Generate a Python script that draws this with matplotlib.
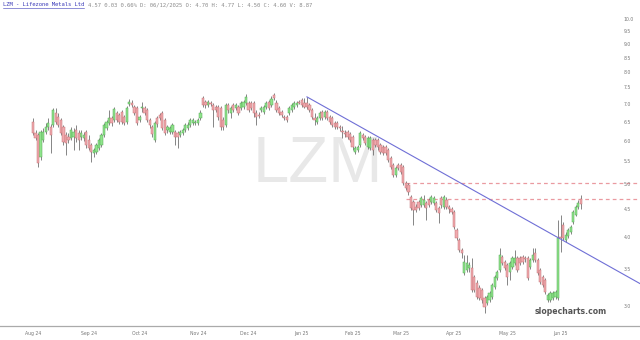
import numpy as np
import pandas as pd
import matplotlib
matplotlib.use("Agg")
import matplotlib.pyplot as plt
from matplotlib.lines import Line2D

# ---------------- data ----------------
holidays = ["2024-09-02", "2024-11-28", "2024-12-25", "2025-01-01", "2025-01-09",
            "2025-01-20", "2025-02-17", "2025-04-18", "2025-05-26"]
dates = pd.bdate_range("2024-08-01", "2025-06-12", freq="C", holidays=holidays)

opens = [6.49, 6.19, 6.14, 5.60, 6.02, 6.22, 6.35, 6.35, 6.41, 6.74,
         6.63, 6.54, 6.35, 6.14, 6.09, 6.07, 6.09, 6.27, 6.19, 6.09,
         6.07, 6.22, 6.02, 5.89, 5.70, 5.72, 5.82, 5.89, 6.14, 6.33,
         6.46, 6.60, 6.54, 6.74, 6.68, 6.77, 6.63, 6.49, 7.00, 7.03,
         6.91, 6.88, 6.54, 6.88, 6.88, 6.82, 6.54, 6.35, 6.02, 6.60,
         6.68, 6.74, 6.54, 6.27, 6.22, 6.22, 6.22, 6.19, 6.14, 6.19,
         6.27, 6.33, 6.41, 6.46, 6.46, 6.46, 6.60, 7.18, 7.06, 6.97,
         7.03, 6.97, 6.91, 6.91, 6.88, 6.54, 6.41, 6.97, 6.74, 6.97,
         6.88, 6.91, 6.88, 6.91, 7.03, 7.03, 7.03, 7.03, 6.74, 6.68,
         6.82, 6.77, 6.91, 7.06, 6.97, 7.27, 7.03, 6.88, 6.77, 6.63,
         6.63, 6.74, 6.82, 6.91, 6.97, 7.06, 7.12, 7.03, 7.03, 6.97,
         6.82, 6.60, 6.49, 6.60, 6.77, 6.63, 6.77, 6.63, 6.60, 6.46,
         6.46, 6.35, 6.25, 6.19, 6.22, 6.17, 6.09, 5.72, 5.77, 5.89,
         6.14, 6.09, 5.84, 5.82, 6.02, 6.02, 6.02, 5.89, 5.84, 5.84,
         5.77, 5.58, 5.42, 5.19, 5.42, 5.42, 5.37, 5.02, 4.98, 4.73,
         4.64, 4.54, 4.64, 4.58, 4.58, 4.62, 4.67, 4.64, 4.62, 4.62,
         4.52, 4.71, 4.54, 4.67, 4.54, 4.50, 4.45, 4.12, 3.95, 3.79,
         3.44, 3.48, 3.51, 3.51, 3.38, 3.30, 3.23, 3.20, 3.10, 3.03,
         3.07, 3.11, 3.24, 3.37, 3.48, 3.68, 3.60, 3.56, 3.45, 3.53,
         3.59, 3.66, 3.66, 3.68, 3.66, 3.66, 3.53, 3.63, 3.74, 3.63,
         3.48, 3.38, 3.34, 3.07, 3.07, 3.10, 3.11, 3.10, 4.00, 4.21,
         3.95, 4.02, 4.09, 4.26, 4.39, 4.54, 4.70]

highs = [6.60, 6.27, 6.19, 6.27, 6.33, 6.46, 6.60, 6.43, 6.88, 6.88,
         6.74, 6.60, 6.41, 6.22, 6.19, 6.35, 6.33, 6.41, 6.27, 6.27,
         6.22, 6.27, 6.14, 5.94, 5.82, 5.94, 6.07, 6.19, 6.46, 6.54,
         6.82, 6.65, 6.91, 6.80, 6.74, 6.82, 6.68, 6.94, 7.15, 7.12,
         6.97, 6.94, 6.68, 7.06, 6.94, 6.88, 6.60, 6.41, 6.52, 6.65,
         6.74, 6.80, 6.60, 6.41, 6.38, 6.46, 6.27, 6.25, 6.27, 6.33,
         6.46, 6.49, 6.60, 6.60, 6.54, 6.60, 6.82, 7.24, 7.12, 7.12,
         7.09, 7.03, 6.97, 6.97, 6.94, 6.63, 7.03, 7.03, 6.94, 7.03,
         7.03, 6.97, 7.09, 7.12, 7.30, 7.09, 7.09, 7.09, 6.82, 6.77,
         6.94, 6.97, 7.09, 7.12, 7.24, 7.33, 7.12, 6.94, 6.82, 6.68,
         6.68, 6.94, 7.03, 7.09, 7.09, 7.12, 7.18, 7.18, 7.21, 7.03,
         6.88, 6.74, 6.65, 6.80, 6.82, 6.82, 6.82, 6.68, 6.65, 6.52,
         6.52, 6.41, 6.38, 6.27, 6.27, 6.22, 6.14, 5.87, 5.89, 6.25,
         6.19, 6.14, 6.12, 6.12, 6.07, 6.07, 6.07, 5.94, 5.89, 5.89,
         5.82, 5.62, 5.46, 5.39, 5.46, 5.46, 5.42, 5.06, 5.02, 4.77,
         4.67, 4.60, 4.67, 4.75, 4.77, 4.66, 4.71, 4.77, 4.75, 4.66,
         4.56, 4.75, 4.77, 4.73, 4.58, 4.54, 4.48, 4.16, 3.98, 3.82,
         3.71, 3.71, 3.60, 3.66, 3.41, 3.34, 3.27, 3.23, 3.12, 3.14,
         3.19, 3.30, 3.41, 3.48, 3.82, 3.71, 3.63, 3.59, 3.62, 3.70,
         3.79, 3.70, 3.70, 3.71, 3.70, 3.70, 3.66, 3.82, 3.82, 3.66,
         3.51, 3.41, 3.37, 3.16, 3.19, 3.19, 3.20, 4.30, 4.39, 4.26,
         4.09, 4.16, 4.21, 4.48, 4.58, 4.67, 4.77]

lows = [6.14, 6.02, 5.37, 5.53, 5.97, 6.17, 6.27, 5.70, 6.35, 6.43,
        6.35, 6.14, 5.89, 5.65, 5.94, 6.02, 5.77, 5.97, 5.77, 6.02,
        5.99, 5.82, 5.77, 5.48, 5.60, 5.67, 5.77, 5.84, 6.09, 6.27,
        6.41, 6.38, 6.49, 6.49, 6.43, 6.43, 6.41, 6.43, 6.94, 6.91,
        6.68, 6.41, 6.49, 6.77, 6.68, 6.49, 6.33, 6.09, 5.97, 6.35,
        6.54, 6.27, 6.14, 6.19, 6.17, 6.17, 5.89, 5.82, 6.09, 6.14,
        6.22, 6.27, 6.35, 6.41, 6.41, 6.41, 6.54, 6.91, 6.88, 6.91,
        6.94, 6.35, 6.77, 6.54, 6.27, 6.27, 6.35, 6.74, 6.60, 6.77,
        6.82, 6.68, 6.82, 6.85, 6.97, 6.77, 6.82, 6.63, 6.41, 6.60,
        6.77, 6.71, 6.85, 6.82, 6.91, 7.12, 6.77, 6.68, 6.63, 6.54,
        6.49, 6.68, 6.77, 6.85, 6.91, 7.00, 6.91, 6.88, 6.85, 6.77,
        6.57, 6.41, 6.43, 6.54, 6.54, 6.57, 6.54, 6.43, 6.35, 6.30,
        6.30, 6.25, 6.07, 6.09, 6.04, 5.97, 5.77, 5.67, 5.72, 5.84,
        6.02, 5.89, 5.79, 5.77, 5.65, 5.84, 5.77, 5.67, 5.65, 5.65,
        5.48, 5.33, 5.15, 5.15, 5.30, 5.21, 4.98, 4.88, 4.77, 4.48,
        4.21, 4.45, 4.48, 4.54, 4.54, 4.30, 4.54, 4.60, 4.58, 4.45,
        4.24, 4.52, 4.50, 4.50, 4.43, 4.41, 4.14, 3.95, 3.76, 3.66,
        3.41, 3.45, 3.45, 3.18, 3.18, 3.08, 3.07, 3.03, 2.91, 3.01,
        3.05, 3.08, 3.22, 3.34, 3.45, 3.56, 3.48, 3.27, 3.34, 3.50,
        3.56, 3.45, 3.56, 3.57, 3.60, 3.34, 3.50, 3.60, 3.60, 3.41,
        3.28, 3.24, 3.15, 3.05, 3.05, 3.07, 3.08, 3.07, 3.76, 3.95,
        3.92, 3.98, 4.05, 4.23, 4.37, 4.50, 4.50]

closes = [6.19, 6.07, 5.46, 6.22, 6.22, 6.35, 6.46, 6.14, 6.82, 6.49,
          6.41, 6.19, 5.97, 5.94, 6.02, 6.27, 6.22, 6.07, 6.02, 6.19,
          6.14, 5.89, 5.82, 5.72, 5.77, 5.89, 6.02, 6.14, 6.41, 6.49,
          6.60, 6.46, 6.85, 6.54, 6.49, 6.49, 6.46, 6.88, 7.06, 6.97,
          6.74, 6.46, 6.63, 6.91, 6.74, 6.54, 6.41, 6.17, 6.46, 6.43,
          6.60, 6.33, 6.19, 6.35, 6.33, 6.41, 6.09, 6.09, 6.22, 6.27,
          6.41, 6.41, 6.54, 6.54, 6.49, 6.54, 6.74, 6.97, 6.97, 7.06,
          7.00, 6.82, 6.82, 6.63, 6.35, 6.35, 6.97, 6.82, 6.88, 6.82,
          6.97, 6.74, 7.03, 7.06, 7.21, 6.82, 6.88, 6.74, 6.63, 6.65,
          6.88, 6.91, 7.03, 6.88, 7.15, 7.18, 6.82, 6.74, 6.68, 6.60,
          6.54, 6.88, 6.97, 7.03, 7.03, 7.03, 6.97, 6.91, 6.91, 6.82,
          6.63, 6.54, 6.60, 6.74, 6.60, 6.77, 6.60, 6.49, 6.41, 6.35,
          6.35, 6.33, 6.22, 6.17, 6.09, 6.02, 5.84, 5.82, 5.84, 6.19,
          6.07, 5.94, 6.07, 6.07, 5.77, 5.89, 5.84, 5.72, 5.70, 5.70,
          5.53, 5.37, 5.19, 5.35, 5.35, 5.26, 5.02, 4.92, 4.83, 4.52,
          4.48, 4.48, 4.52, 4.71, 4.67, 4.52, 4.58, 4.73, 4.71, 4.48,
          4.43, 4.58, 4.73, 4.54, 4.50, 4.45, 4.17, 3.98, 3.79, 3.74,
          3.60, 3.59, 3.56, 3.20, 3.20, 3.11, 3.10, 3.07, 2.98, 3.11,
          3.16, 3.27, 3.38, 3.45, 3.71, 3.59, 3.51, 3.38, 3.59, 3.66,
          3.66, 3.48, 3.59, 3.60, 3.65, 3.37, 3.63, 3.71, 3.63, 3.44,
          3.31, 3.27, 3.18, 3.14, 3.16, 3.16, 3.18, 3.98, 3.98, 3.98,
          4.04, 4.12, 4.17, 4.45, 4.54, 4.62, 4.60]

ytick_vals = [3.0, 3.5, 4.0, 4.5, 5.0, 5.5, 6.0, 6.5, 7.0, 7.5, 8.0, 8.5, 9.0, 9.5, 10.0]
ytick_labels = ["3.0", "3.5", "4.0", "4.5", "5.0", "5.5", "6.0", "6.5", "7.0",
                "7.5", "8.0", "8.5", "9.0", "9.5", "10.0"]

trend_x = [108, 239.3]
trend_y = [7.21, 3.29]
hlines_y = [5.03, 4.69]
hline_start = 147

header_link = "LZM - Lifezone Metals Ltd"
header_rest = "4.57 0.03 0.66% D: 06/12/2025 O: 4.70 H: 4.77 L: 4.50 C: 4.60 V: 8.87"

# ---------------- figure ----------------
fig = plt.figure(figsize=(6.4, 3.4), dpi=100)
ax = fig.add_axes([0.0, 14 / 340, 1.0, 314 / 340])
ax.set_yscale("log")
ax.set_xlim(-13.0, 239.3)
ax.set_ylim(2.753, 10.30)

o = np.array(opens); h = np.array(highs); l = np.array(lows); c = np.array(closes)
x = np.arange(len(c))
up = c >= o

# watermark
ax.text(0.497, 0.513, "LZM", transform=ax.transAxes, fontsize=47,
        family="Liberation Sans", color="#e8e8e8", ha="center", va="center", zorder=0)

# wicks
ax.vlines(x, l, h, color="#555555", lw=0.5, zorder=2)
# bodies
bottoms = np.minimum(o, c)
heights = np.maximum(np.abs(c - o), 0.012)
ax.bar(x[up], heights[up], bottom=bottoms[up], width=0.88, color="#8fe48c",
       edgecolor="#56a856", linewidth=0.35, zorder=3)
ax.bar(x[~up], heights[~up], bottom=bottoms[~up], width=0.88, color="#f0a9ae",
       edgecolor="#c47478", linewidth=0.35, zorder=3)

# trendline
ax.plot(trend_x, trend_y, color="#6f6fd6", lw=0.8, zorder=4)
# dashed horizontal levels
for yv in hlines_y:
    ax.plot([hline_start, 239.3], [yv, yv], color="#ea9aa0", lw=0.9,
            dashes=(3, 2.5), zorder=1)

# axes styling
for s in ["top", "left", "right"]:
    ax.spines[s].set_visible(False)
ax.spines["bottom"].set_color("#aaaaaa")
ax.spines["bottom"].set_linewidth(0.9)

ax.yaxis.set_minor_locator(matplotlib.ticker.NullLocator())
ax.set_yticks(ytick_vals)
ax.set_yticklabels(ytick_labels)
ax.yaxis.tick_right()
ax.tick_params(axis="y", length=0, pad=-12, labelsize=3.3, labelcolor="#777777")

month_idx = [i for i in range(len(dates)) if i == 0 or dates[i].month != dates[i - 1].month]
ax.set_xticks(month_idx)
ax.set_xticklabels([dates[i].strftime("%b %y") for i in month_idx])
ax.tick_params(axis="x", length=0, pad=3.5, labelsize=3.3, labelcolor="#777777")

# site watermark
ax.text(571 / 640, (326 - 312) / 314, "slopecharts.com", transform=ax.transAxes,
        fontsize=5.6, fontweight="bold", color="#555555", ha="center", va="center", zorder=5)

# header
t1 = fig.text(3 / 640, 1 - 5 / 340, header_link, fontsize=4.0, family="DejaVu Sans Mono",
              color="#3a3ab8", ha="left", va="center")
fig.canvas.draw()
bb = t1.get_window_extent()
fig.text((bb.x1 + 4) / 640, 1 - 5 / 340, header_rest, fontsize=4.0,
         family="DejaVu Sans Mono", color="#8a8a8a", ha="left", va="center")
fig.add_artist(Line2D([bb.x0 / 640, bb.x1 / 640], [(bb.y0 - 0.5) / 340] * 2,
                      color="#3a3ab8", lw=0.4))

fig.savefig("out.png", dpi=100)
